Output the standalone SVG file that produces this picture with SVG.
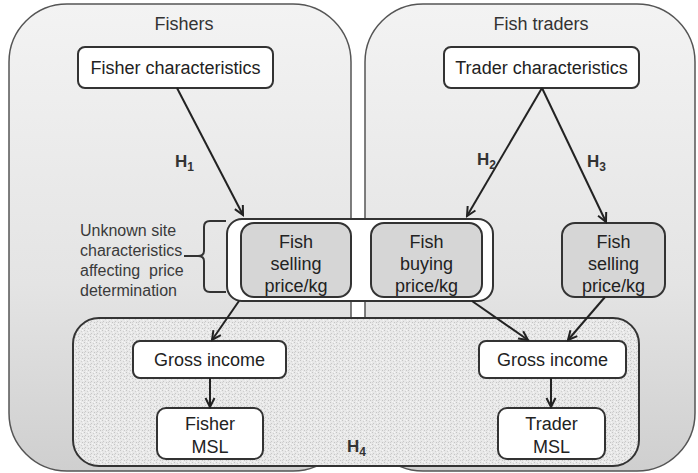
<svg xmlns="http://www.w3.org/2000/svg" width="698" height="473" viewBox="0 0 698 473">
<style>
.t{font-family:"Liberation Sans",Arial,sans-serif;font-size:18px;fill:#222;text-anchor:middle}
.lab{font-family:"Liberation Sans",Arial,sans-serif;font-size:18px;fill:#333;text-anchor:middle}
.side{font-family:"Liberation Sans",Arial,sans-serif;font-size:16px;fill:#3a3a3a;white-space:pre}
.h{font-family:"Liberation Sans",Arial,sans-serif;font-size:17px;font-weight:bold;fill:#333}
.hs{font-size:12px}
.panel{fill:url(#pg);stroke:#555;stroke-width:1.5}
.box{fill:#fff;stroke:#333;stroke-width:2}
.gbox{fill:#d6d6d6;stroke:#333;stroke-width:2}
.con{fill:none;stroke:#222;stroke-width:2;marker-end:url(#arr)}
</style>
<defs>
<linearGradient id="pg" x1="0" y1="0" x2="0" y2="1">
<stop offset="0" stop-color="#f3f3f3"/>
<stop offset="0.6" stop-color="#e4e4e4"/>
<stop offset="1" stop-color="#cfcfcf"/>
</linearGradient>
<pattern id="spk" width="6" height="6" patternUnits="userSpaceOnUse">
<rect width="6" height="6" fill="#e8e8e8"/>
<rect x="0" y="0" width="1" height="1" fill="#c4c4c4"/>
<rect x="3" y="1" width="1" height="1" fill="#cfcfcf"/>
<rect x="1" y="3" width="1" height="1" fill="#c8c8c8"/>
<rect x="4" y="4" width="1" height="1" fill="#c4c4c4"/>
<rect x="2" y="5" width="1" height="1" fill="#f5f5f5"/>
<rect x="5" y="2" width="1" height="1" fill="#f5f5f5"/>
<rect x="4" y="0" width="1" height="1" fill="#f7f7f7"/>
<rect x="0" y="4" width="1" height="1" fill="#d2d2d2"/>
</pattern>
<marker id="arr" markerWidth="12" markerHeight="12" refX="10" refY="6" orient="auto" markerUnits="userSpaceOnUse">
<path d="M1,1.5 L10,6 L1,10.5" fill="none" stroke="#222" stroke-width="2"/>
</marker>
</defs>

<g id="panel-fishers">
<rect class="panel" x="9" y="4" width="342" height="467" rx="58" ry="58"/>
<text class="lab" x="184" y="30">Fishers</text>
</g>
<g id="panel-traders">
<rect class="panel" x="365" y="4" width="330" height="467" rx="58" ry="58"/>
<text class="lab" x="541" y="30">Fish traders</text>
</g>

<g id="outcome-area">
<rect x="73" y="318" width="566" height="148" rx="26" ry="26" fill="url(#spk)" stroke="#333" stroke-width="2"/>
<text class="h" x="347" y="452">H<tspan class="hs" dy="4">4</tspan></text>
</g>

<g id="fisher-characteristics">
<rect class="box" x="78" y="47" width="195" height="41" rx="7"/>
<text class="t" x="175.5" y="74">Fisher characteristics</text>
</g>
<g id="trader-characteristics">
<rect class="box" x="444" y="47" width="195" height="41" rx="7"/>
<text class="t" x="541.5" y="74">Trader characteristics</text>
</g>

<g id="price-group">
<rect class="box" x="227" y="219" width="266" height="82" rx="15"/>
</g>
<g id="fisher-selling-price">
<rect class="gbox" x="241" y="223" width="110" height="74" rx="13"/>
<text class="t" x="296" y="248">Fish</text>
<text class="t" x="296" y="270">selling</text>
<text class="t" x="296" y="292">price/kg</text>
</g>
<g id="trader-buying-price">
<rect class="gbox" x="371" y="223" width="111" height="74" rx="13"/>
<text class="t" x="426.5" y="248">Fish</text>
<text class="t" x="426.5" y="270">buying</text>
<text class="t" x="426.5" y="292">price/kg</text>
</g>
<g id="trader-selling-price">
<rect class="gbox" x="562" y="223" width="103" height="74" rx="13"/>
<text class="t" x="613.5" y="248">Fish</text>
<text class="t" x="613.5" y="270">selling</text>
<text class="t" x="613.5" y="292">price/kg</text>
</g>

<g id="site-characteristics">
<text class="side" x="80" y="236">Unknown site</text>
<text class="side" x="80" y="256">characteristics</text>
<text class="side" x="80" y="276">affecting  price</text>
<text class="side" x="80" y="296">determination</text>
<path d="M226,221 L210,221 Q204,221 204,227 L204,251 Q204,256 198,256 L184,256 M198,256 Q204,256 204,261 L204,286 Q204,292 210,292 L226,292" fill="none" stroke="#333" stroke-width="2"/>
</g>

<g id="fisher-gross-income">
<rect class="box" x="133" y="341" width="153" height="37" rx="7"/>
<text class="t" x="209.5" y="366">Gross income</text>
</g>
<g id="fisher-msl">
<rect class="box" x="157" y="408" width="106" height="51" rx="9"/>
<text class="t" x="210" y="430">Fisher</text>
<text class="t" x="210" y="453">MSL</text>
</g>
<g id="trader-gross-income">
<rect class="box" x="479" y="341" width="147" height="37" rx="7"/>
<text class="t" x="552.5" y="366">Gross income</text>
</g>
<g id="trader-msl">
<rect class="box" x="498" y="408" width="107" height="51" rx="9"/>
<text class="t" x="551.5" y="430">Trader</text>
<text class="t" x="551.5" y="453">MSL</text>
</g>

<g id="connectors">
<line class="con" x1="177" y1="88" x2="243" y2="215"/>
<line class="con" x1="542" y1="88" x2="467" y2="216"/>
<line class="con" x1="542" y1="88" x2="606" y2="222"/>
<line class="con" x1="239" y1="301" x2="212" y2="340"/>
<line class="con" x1="472" y1="301" x2="528" y2="340"/>
<line class="con" x1="605" y1="297" x2="568" y2="340"/>
<line class="con" x1="210" y1="378" x2="210" y2="407"/>
<line class="con" x1="551" y1="378" x2="551" y2="407"/>
<text class="h" x="175" y="167">H<tspan class="hs" dy="4">1</tspan></text>
<text class="h" x="477" y="165">H<tspan class="hs" dy="4">2</tspan></text>
<text class="h" x="587" y="167">H<tspan class="hs" dy="4">3</tspan></text>
</g>
</svg>
